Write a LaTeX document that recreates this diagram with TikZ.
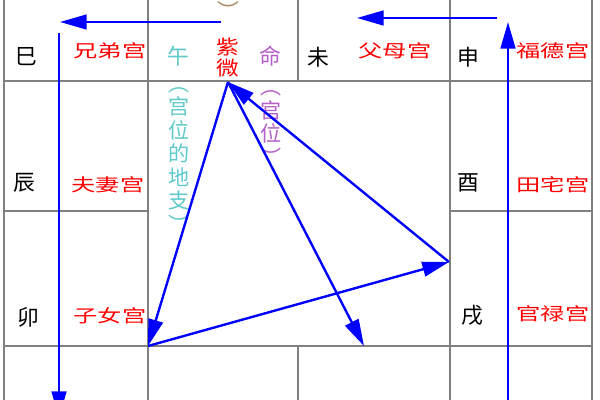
\documentclass[tikz,border=0pt]{standalone}
\usepackage{fontspec}
\setmainfont{Noto Sans CJK SC}
\usetikzlibrary{arrows.meta}
\definecolor{dizhicolor}{RGB}{95,200,200}
\definecolor{gongweicolor}{RGB}{180,95,200}
\definecolor{arccolor}{RGB}{170,140,100}

\begin{document}
\begin{tikzpicture}[x=0.025cm, y=-0.025cm,
  gridline/.style={gray, line width=1pt},
  branch/.style={color=black, font=\fontsize{15.5}{15.5}\selectfont},
  palace/.style={color=red, font=\fontsize{12.5}{12.5}\selectfont,
                 xscale=1.38, transform shape},
  vtext/.style={align=center, inner sep=0pt,
                font=\fontsize{15}{16.7}\selectfont},
  flow/.style={blue, line width=1.7pt,
               -{Triangle[length=19pt, width=10.5pt]}}]

\useasboundingbox (0,0) rectangle (600,400);

\draw[gridline] (4,0) -- (4,400);
\draw[gridline] (148,0) -- (148,400);
\draw[gridline] (298,0) -- (298,81);
\draw[gridline] (298,346) -- (298,400);
\draw[gridline] (450,0) -- (450,400);
\draw[gridline] (592,0) -- (592,400);
\draw[gridline] (4,81) -- (592,81);
\draw[gridline] (4,211) -- (148,211);
\draw[gridline] (450,211) -- (592,211);
\draw[gridline] (4,346) -- (592,346);

\draw (26, 57) node (si) [branch] {巳};
\draw (110, 51) node (xiongdi) [palace] {兄弟宫};
\draw (178, 56) node (wu) [branch, color=dizhicolor] {午};
\draw (228, 82) node (ziwei) [anchor=south, inner xsep=1pt, inner ysep=3pt,
  align=center, color=red, font=\fontsize{14}{15.5}\selectfont,
  xscale=1.15, transform shape] {紫\\微};
\draw (270, 56) node (ming) [branch, color=gongweicolor] {命};
\draw (228, 10) node (kuohao) [branch, color=arccolor] {︶};
\draw (318, 57) node (wei) [branch] {未};
\draw (395, 51) node (fumu) [palace] {父母宫};
\draw (468, 57) node (shen) [branch] {申};
\draw (553, 51) node (fude) [palace] {福德宫};

\draw (24, 183) node (chen) [branch] {辰};
\draw (108, 185) node (fuqi) [palace] {夫妻宫};
\draw (468, 183) node (you) [branch] {酉};
\draw (553, 185) node (tianzhai) [palace] {田宅宫};

\draw (28, 317) node (mao) [branch] {卯};
\draw (110, 316) node (zinv) [palace] {子女宫};
\draw (472, 315) node (xu) [branch] {戌};
\draw (553, 314) node (guanlu) [palace] {官禄宫};

\draw (179, 160) node (dizhi) [vtext, color=dizhicolor]
  {︵\\宫\\位\\的\\地\\支\\︶};
\draw (271, 128) node (gongwei) [vtext, color=gongweicolor]
  {︵\\宫\\位\\︶};

\coordinate (topl start) at (221,22);
\coordinate (topl end) at (60,22);
\coordinate (left start) at (59,33);
\coordinate (left end) at (59,418);
\coordinate (right start) at (508,420);
\coordinate (right end) at (508,22);
\coordinate (topr start) at (497,18);
\coordinate (topr end) at (357,18);
\coordinate (corner b) at (148,346);
\coordinate (corner c) at (449,262);
\coordinate (corner d) at (364,346);

\draw[flow] (topl start) -- (topl end);
\draw[flow] (left start) -- (left end);
\draw[flow] (right start) -- (right end);
\draw[flow] (topr start) -- (topr end);
\draw[flow] (ziwei.south) -- (corner b);
\draw[flow] (corner b) -- (corner c);
\draw[flow] (corner c) -- (ziwei.south);
\draw[flow] (ziwei.south) -- (corner d);
\end{tikzpicture}
\end{document}
